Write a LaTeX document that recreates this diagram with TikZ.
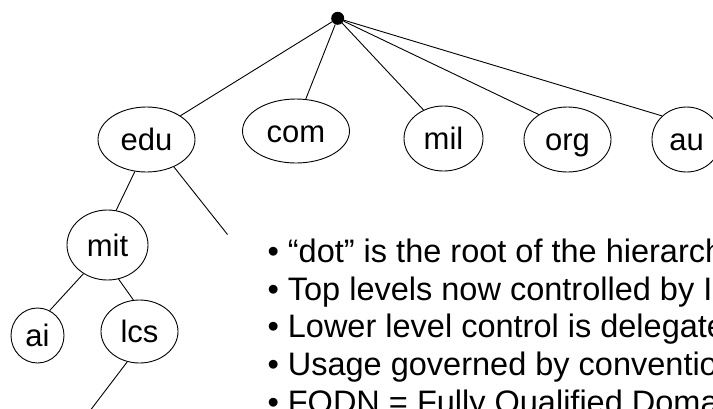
\documentclass[tikz,border=0pt]{standalone}
\usepackage{fontspec}
\setmainfont{Liberation Sans}
\usetikzlibrary{shapes.geometric}
\begin{document}
\begin{tikzpicture}[x=1pt,y=-1pt,
  dn/.style={draw, ellipse, inner sep=0pt, line width=0.9pt,
    font=\fontsize{31}{37}\selectfont, text height=25pt, text depth=3pt},
  link/.style={draw, line width=0.9pt},
  bul/.style={anchor=base west, inner sep=0pt, font=\fontsize{32.5}{38}\selectfont}]
\useasboundingbox (0,0) rectangle (713,408);
\clip (0,0) rectangle (713,408);
% nodes
\node[circle, fill=black, inner sep=0pt, minimum size=13pt] (root) at (337.7,18.3) {};
\node[dn, minimum width=97pt, minimum height=65pt] (edu) at (146.5,139.5) {edu};
\node[dn, minimum width=107pt, minimum height=64pt] (com) at (296,131) {com};
\node[dn, minimum width=79pt, minimum height=65pt] (mil) at (443.5,138.5) {mil};
\node[dn, minimum width=87pt, minimum height=65pt] (org) at (567.5,139.5) {org};
\node[dn, minimum width=69pt, minimum height=65pt] (au) at (686.5,139.5) {au};
\node[dn, minimum width=81pt, minimum height=70pt] (mit) at (107.5,245) {mit};
\node[dn, minimum width=53pt, minimum height=55pt] (ai) at (37.5,335.5) {ai};
\node[dn, minimum width=77pt, minimum height=63pt] (lcs) at (139.5,331.5) {lcs};
\coordinate (e1) at (227.5,234.5);
\coordinate (e2) at (83,420);
% connectors
\draw[link] (root) -- (edu.35);
\draw[link] (root) -- (com.73);
\draw[link] (root) -- (mil.125);
\draw[link] (root) -- (org.139);
\draw[link] (root) -- (au.136);
\draw[link] (edu.250) -- (mit.76);
\draw[link] (edu.315) -- (e1);
\draw[link] (mit.230) -- (ai.64);
\draw[link] (mit.288) -- (lcs.101);
\draw[link] (lcs.248) -- (e2);
% text
\node[bul] (l1) at (267.3,262.3) {• “dot” is the root of the hierarch};
\node[bul] (l2) at (267.3,300.0) {• Top levels now controlled by IC};
\node[bul] (l3) at (267.3,337.7) {• Lower level control is delegate};
\node[bul] (l4) at (267.3,375.4) {• Usage governed by conventio};
\node[bul] (l5) at (267.3,413.1) {• FQDN = Fully Qualified Doma};
\end{tikzpicture}
\end{document}
